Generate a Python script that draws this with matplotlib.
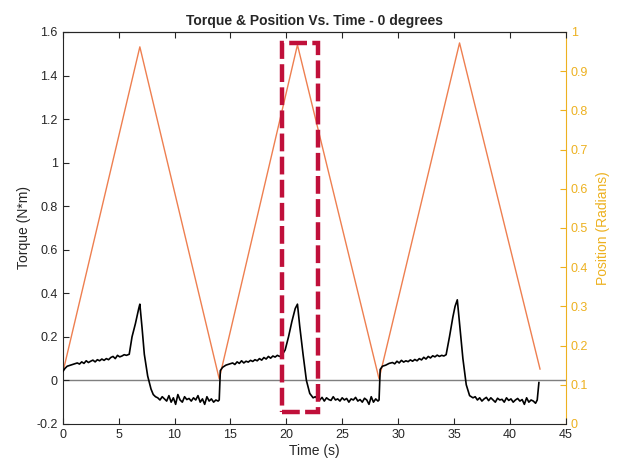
import numpy as np
import matplotlib
matplotlib.use("Agg")
import matplotlib.pyplot as plt
from matplotlib.patches import Rectangle

plt.rcParams['font.family'] = ['Liberation Sans', 'DejaVu Sans']

# position (radians) - triangle wave vertices
pos_t = [0.0, 6.9, 14.0, 21.0, 28.3, 35.5, 42.7]
pos_v = [0.13, 0.962, 0.115, 0.967, 0.115, 0.972, 0.14]

# torque (N*m)
torque_t = [
    # cycle 1
    0.0, 0.2, 0.4, 0.7, 1.0, 1.3, 1.5, 1.7, 1.9, 2.1, 2.3, 2.5, 2.7, 2.9, 3.1, 3.3,
    3.5, 3.7, 3.9, 4.1, 4.3, 4.5, 4.7, 4.9, 5.1, 5.3, 5.5, 5.7, 5.95, 6.2, 6.5, 6.8,
    6.9, 7.1, 7.3, 7.6, 7.9, 8.1, 8.3,
    8.5, 8.7, 8.9, 9.1, 9.3, 9.5, 9.7, 9.9, 10.1, 10.3, 10.5, 10.7, 10.9, 11.1, 11.3,
    11.5, 11.7, 11.9, 12.1, 12.3, 12.5, 12.7, 12.9, 13.1, 13.3, 13.5, 13.7, 13.9,
    # cycle 2
    14.0, 14.1, 14.3, 14.6, 14.9, 15.2, 15.4, 15.6, 15.8, 16.0, 16.2, 16.4, 16.6, 16.8,
    17.0, 17.2, 17.4, 17.6, 17.8, 18.0, 18.2, 18.4, 18.6, 18.8, 19.0, 19.2, 19.4, 19.6,
    19.9, 20.2, 20.5, 20.8, 21.0, 21.2, 21.5, 21.8, 22.1, 22.4,
    22.6, 22.8, 23.0, 23.2, 23.4, 23.6, 23.8, 24.0, 24.2, 24.4, 24.6, 24.8, 25.0, 25.2,
    25.4, 25.6, 25.8, 26.0, 26.2, 26.4, 26.6, 26.8, 27.0, 27.2, 27.4, 27.6, 27.8, 28.0,
    28.2,
    # cycle 3
    28.3, 28.4, 28.6, 28.9, 29.2, 29.5, 29.7, 29.9, 30.1, 30.3, 30.5, 30.7, 30.9, 31.1,
    31.3, 31.5, 31.7, 31.9, 32.1, 32.3, 32.5, 32.7, 32.9, 33.1, 33.3, 33.5, 33.7, 33.9,
    34.1, 34.3, 34.6, 34.9, 35.1, 35.3, 35.5, 35.8, 36.1, 36.4, 36.7,
    36.9, 37.1, 37.3, 37.5, 37.7, 37.9, 38.1, 38.3, 38.5, 38.7, 38.9, 39.1, 39.3, 39.5,
    39.7, 39.9, 40.1, 40.3, 40.5, 40.7, 40.9, 41.1, 41.3, 41.5, 41.7, 41.9, 42.1, 42.3,
    42.45, 42.6,
]
torque_v = [
    # cycle 1
    0.04, 0.055, 0.065, 0.07, 0.075, 0.08, 0.075, 0.085, 0.078, 0.09, 0.082, 0.088, 0.093, 0.085, 0.095, 0.09,
    0.098, 0.092, 0.10, 0.095, 0.105, 0.11, 0.10, 0.115, 0.108, 0.112, 0.118, 0.115, 0.12, 0.20, 0.26, 0.33,
    0.35, 0.24, 0.12, 0.02, -0.04, -0.065, -0.075,
    -0.08, -0.09, -0.075, -0.085, -0.095, -0.07, -0.10, -0.08, -0.11, -0.065, -0.09, -0.10, -0.075, -0.088, -0.083,
    -0.095, -0.08, -0.09, -0.07, -0.10, -0.085, -0.11, -0.075, -0.095, -0.085, -0.10, -0.09, -0.095,
    # cycle 2
    -0.09, 0.045, 0.06, 0.07, 0.075, 0.08, 0.073, 0.085, 0.078, 0.09, 0.08, 0.088, 0.084, 0.092,
    0.087, 0.095, 0.09, 0.10, 0.093, 0.105, 0.098, 0.11, 0.102, 0.112, 0.107, 0.115, 0.11, 0.115,
    0.14, 0.20, 0.27, 0.33, 0.35, 0.25, 0.12, 0.0, -0.06, -0.08,
    -0.075, -0.085, -0.09, -0.078, -0.095, -0.08, -0.088, -0.092, -0.075, -0.09, -0.085, -0.095, -0.08, -0.09,
    -0.083, -0.1, -0.085, -0.09, -0.078, -0.095, -0.088, -0.1, -0.082, -0.09, -0.11, -0.075, -0.1, -0.085,
    -0.095,
    # cycle 3
    -0.09, 0.05, 0.065, 0.07, 0.078, 0.082, 0.076, 0.088, 0.08, 0.092, 0.084, 0.09, 0.086, 0.094,
    0.088, 0.096, 0.09, 0.10, 0.094, 0.106, 0.098, 0.11, 0.103, 0.113, 0.108, 0.116, 0.11, 0.115,
    0.112, 0.118, 0.20, 0.29, 0.34, 0.37, 0.26, 0.10, -0.02, -0.07, -0.08,
    -0.075, -0.09, -0.08, -0.095, -0.085, -0.078, -0.093, -0.08, -0.09, -0.1, -0.082, -0.09, -0.087, -0.1,
    -0.08, -0.092, -0.085, -0.1, -0.09, -0.083, -0.095, -0.088, -0.11, -0.08, -0.1, -0.09, -0.095, -0.105,
    -0.09, -0.01,
]

x_ticks = [0, 5, 10, 15, 20, 25, 30, 35, 40, 45]
left_ticks = [-0.2, 0, 0.2, 0.4, 0.6, 0.8, 1.0, 1.2, 1.4, 1.6]
left_labels = ['-0.2', '0', '0.2', '0.4', '0.6', '0.8', '1', '1.2', '1.4', '1.6']
right_ticks = [0, 0.1, 0.2, 0.3, 0.4, 0.5, 0.6, 0.7, 0.8, 0.9, 1.0]
right_labels = ['0', '0.1', '0.2', '0.3', '0.4', '0.5', '0.6', '0.7', '0.8', '0.9', '1']

dark = '#262626'
yellow = '#EDB120'
orange = '#EE7F50'

fig = plt.figure(figsize=(6.21, 4.70), dpi=100)
ax = fig.add_axes([0.101, 0.098, 0.81, 0.834])
ax2 = ax.twinx()

ax.axhline(0, color='#7f7f7f', lw=1.0, zorder=1)
ax.plot(torque_t, torque_v, color='black', lw=1.2, zorder=3)
ax2.plot(pos_t, pos_v, color=orange, lw=1.0)
ax.set_zorder(ax2.get_zorder() + 1)
ax.patch.set_visible(False)

ax.set_xlim(0, 45)
ax.set_ylim(-0.2, 1.6)
ax2.set_ylim(0, 1)
ax.set_xticks(x_ticks)
ax.set_yticks(left_ticks)
ax.set_yticklabels(left_labels)
ax2.set_yticks(right_ticks)
ax2.set_yticklabels(right_labels)

ax.tick_params(axis='both', direction='in', colors=dark, labelsize=9, length=4, top=True)
ax2.tick_params(axis='y', direction='in', colors=yellow, labelsize=9, length=4)
for s in ['left', 'bottom', 'top']:
    ax.spines[s].set_color(dark)
ax.spines['right'].set_visible(False)
ax2.spines['right'].set_color(yellow)
ax2.spines['left'].set_visible(False)
ax2.spines['top'].set_color(dark)
ax2.spines['bottom'].set_visible(False)

ax.set_xlabel('Time (s)', fontsize=10, color=dark, labelpad=2)
ax.set_ylabel('Torque (N*m)', fontsize=10, color=dark, labelpad=4)
ax2.set_ylabel('Position (Radians)', fontsize=10, color=yellow, labelpad=6)
ax.set_title('Torque & Position Vs. Time - 0 degrees', fontsize=10, fontweight='bold', color=dark, pad=5)

# highlighted region
rect = Rectangle((19.6, -0.147), 3.2, 1.697, fill=False, edgecolor='#C0103A',
                 lw=3.2, linestyle=(0, (4, 1.2)), zorder=5, clip_on=False)
ax.add_patch(rect)

fig.savefig('out.png', dpi=100)
